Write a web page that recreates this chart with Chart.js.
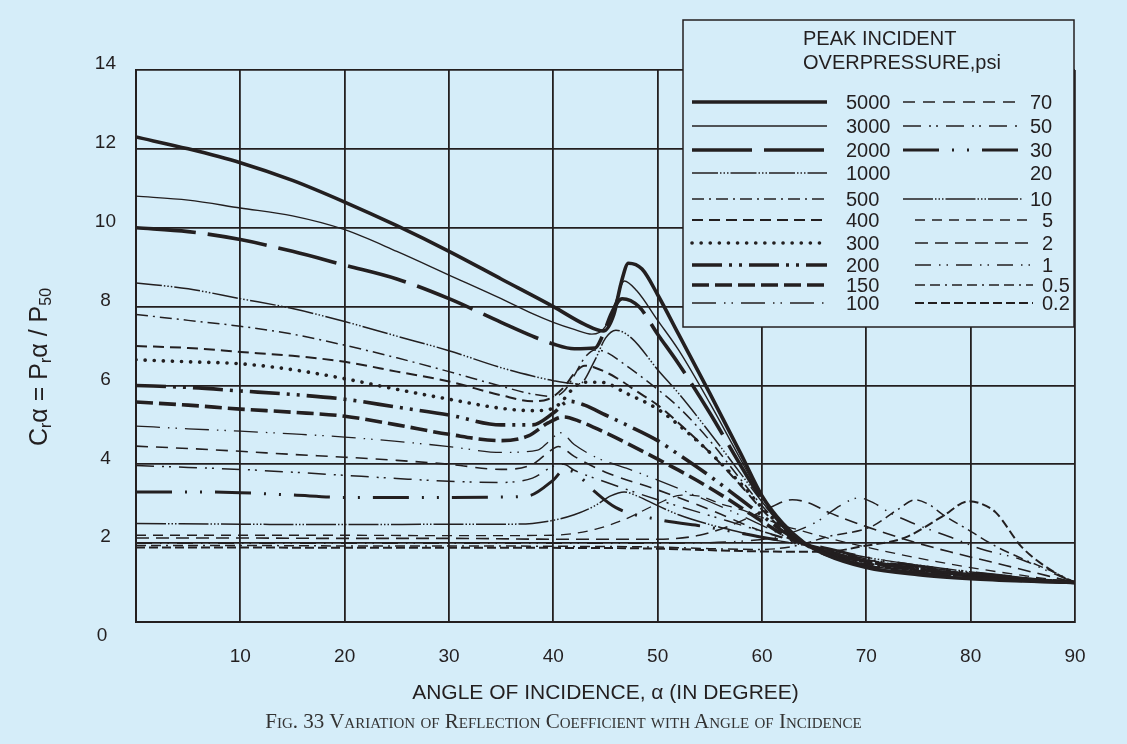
<!DOCTYPE html>
<html>
<head>
<meta charset="utf-8">
<script src="https://cdn.jsdelivr.net/npm/chart.js@4.4.0/dist/chart.umd.min.js"></script>
<style>
  html, body { margin: 0; padding: 0; background: #d5edf9; }
  #wrap { position: relative; width: 1127px; height: 744px; }
  #caption {
    position: absolute; left: 0; top: 709px; width: 1127px; text-align: center;
    font-family: "Liberation Serif", "DejaVu Serif", serif; font-variant: small-caps;
    font-size: 21px; color: #333;
  }
</style>
</head>
<body>
<div id="wrap">
  <canvas id="chart" width="1127" height="744"></canvas>
  <div id="caption">Fig. 33 Variation of Reflection Coefficient with Angle of Incidence</div>
</div>
<script>
// peak incident overpressure (psi) -> [angle, Cr] pairs
const pressures = ['5000', '3000', '2000', '1000', '500', '400', '300', '200', '150', '100',
                   '70', '50', '30', '20', '10', '5', '2', '1', '0.5', '0.2'];

const s5000 = [[0,12.3],[5,12.0],[10,11.65],[15,11.2],[20,10.65],[25,10.05],[30,9.4],[35,8.7],[40,8.0],[43,7.55],[44.8,7.38],[45.8,7.8],[46.5,8.6],[47.2,9.1],[48.5,8.95],[50,8.3],[52,7.3],[55,5.8],[58,4.25],[60,3.2],[62,2.5],[64,2.02],[66,1.72],[70,1.38],[75,1.2],[80,1.1],[85,1.04],[90,1.0]];
const s3000 = [[0,10.8],[5,10.7],[10,10.5],[15,10.3],[20,9.95],[25,9.4],[30,8.8],[35,8.2],[38,7.82],[40,7.6],[42,7.42],[43.7,7.3],[45,7.5],[46,8.15],[46.8,8.65],[48,8.4],[50,7.65],[52,6.9],[55,5.55],[58,4.1],[60,3.15],[62,2.48],[64,2.0],[66,1.72],[70,1.4],[75,1.22],[80,1.12],[85,1.05],[90,1.0]];
const s2000 = [[0,10.0],[5,9.9],[10,9.7],[15,9.4],[20,9.05],[25,8.7],[30,8.2],[35,7.6],[38,7.25],[40,7.05],[42,6.93],[44,6.95],[44.7,7.25],[45.6,7.85],[46.6,8.2],[48.2,8.0],[50,7.3],[52,6.55],[55,5.3],[58,3.95],[60,3.1],[62,2.45],[64,2.0],[66,1.73],[70,1.42],[75,1.24],[80,1.13],[85,1.05],[90,1.0]];
const s1000 = [[0,8.6],[5,8.45],[10,8.2],[15,7.95],[20,7.62],[25,7.25],[30,6.88],[35,6.45],[38,6.24],[40,6.12],[42.5,6.04],[44,6.65],[45,7.2],[46,7.4],[47.5,7.2],[50,6.4],[52,5.8],[55,4.8],[58,3.75],[60,3.05],[62,2.45],[64,2.0],[66,1.75],[70,1.45],[75,1.26],[80,1.15],[85,1.06],[90,1.0]];
const s500 = [[0,7.8],[5,7.65],[10,7.5],[15,7.3],[20,7.02],[25,6.7],[30,6.35],[35,5.98],[38,5.78],[40,5.72],[41,5.85],[42,6.25],[43,6.7],[44,6.9],[45,6.85],[47,6.5],[50,5.9],[52,5.45],[55,4.6],[58,3.6],[60,2.95],[62,2.4],[64,2.0],[66,1.77],[70,1.47],[75,1.28],[80,1.16],[85,1.07],[90,1.0]];
const s400 = [[0,7.0],[5,6.95],[10,6.85],[15,6.75],[20,6.6],[25,6.35],[30,6.1],[35,5.75],[38,5.6],[39.5,5.65],[41,5.95],[42,6.3],[43,6.5],[44,6.45],[46,6.2],[48,5.85],[50,5.5],[52,5.05],[55,4.3],[58,3.45],[60,2.85],[62,2.35],[64,2.0],[66,1.78],[70,1.5],[75,1.3],[80,1.18],[85,1.08],[90,1.0]];
const s300 = [[0,6.65],[5,6.6],[10,6.55],[15,6.4],[20,6.17],[25,5.9],[30,5.65],[35,5.42],[38,5.36],[40,5.42],[41,5.65],[42,5.95],[43,6.08],[44.6,6.08],[47,5.8],[50,5.4],[52,5.0],[55,4.3],[58,3.5],[60,2.9],[62,2.4],[64,2.02],[66,1.8],[70,1.52],[75,1.32],[80,1.19],[85,1.08],[90,1.0]];
const s200 = [[0,6.0],[5,5.95],[10,5.86],[15,5.77],[20,5.65],[25,5.45],[30,5.25],[35,5.0],[38,5.0],[40,5.3],[41.5,5.6],[43,5.5],[45,5.25],[47,5.0],[50,4.6],[52,4.25],[55,3.7],[58,3.1],[60,2.7],[62,2.3],[64,2.0],[66,1.8],[70,1.53],[75,1.33],[80,1.2],[85,1.09],[90,1.0]];
const s150 = [[0,5.58],[5,5.5],[10,5.4],[15,5.32],[20,5.22],[25,5.0],[30,4.76],[35,4.6],[37.6,4.72],[39.5,5.05],[41,5.2],[42.4,5.1],[45,4.8],[50,4.13],[52,3.85],[55,3.4],[58,2.9],[60,2.55],[62,2.22],[64,1.98],[66,1.8],[70,1.54],[75,1.34],[80,1.2],[85,1.09],[90,1.0]];
const s100 = [[0,4.97],[5,4.9],[10,4.84],[15,4.77],[20,4.69],[25,4.58],[30,4.45],[35,4.3],[38.5,4.36],[39.5,4.56],[40.7,4.8],[42,4.5],[44.3,4.15],[47,3.9],[50,3.6],[55,3.05],[58,2.7],[60,2.45],[62,2.2],[64,2.0],[66,1.83],[70,1.56],[75,1.36],[80,1.22],[85,1.1],[90,1.0]];
const s70 = [[0,4.46],[5,4.4],[10,4.33],[15,4.25],[20,4.18],[25,4.1],[30,4.0],[35,3.87],[38,4.0],[39.5,4.3],[40.5,4.45],[42,4.2],[45,3.8],[50,3.35],[55,2.85],[60,2.3],[64,1.98],[66,1.84],[70,1.58],[75,1.38],[80,1.23],[85,1.1],[90,1.0]];
const s50 = [[0,3.97],[5,3.92],[10,3.87],[15,3.8],[20,3.72],[25,3.64],[30,3.57],[35,3.54],[38,3.65],[40,3.95],[41,4.0],[42,3.85],[45,3.55],[50,3.1],[55,2.7],[60,2.3],[64,2.0],[66,1.86],[70,1.6],[75,1.4],[80,1.25],[85,1.11],[90,1.0]];
const s30 = [[0,3.3],[5,3.3],[10,3.28],[15,3.22],[20,3.16],[25,3.16],[30,3.16],[35,3.17],[37.6,3.2],[40,3.6],[41,3.85],[42,3.8],[44,3.3],[46,2.9],[50,2.6],[55,2.4],[60,2.15],[64,1.98],[66,1.88],[70,1.63],[75,1.42],[80,1.26],[85,1.12],[90,1.0]];
const s20 = []; // listed in the key, no curve visible in the figure
const s10 = [[0,2.5],[10,2.48],[20,2.47],[30,2.48],[35,2.48],[38,2.5],[40,2.58],[42,2.72],[44,2.95],[45.5,3.2],[46.8,3.3],[48,3.2],[50,2.95],[52,2.72],[55,2.47],[58,2.27],[60,2.14],[64,1.95],[66,1.86],[70,1.64],[75,1.44],[80,1.27],[85,1.13],[90,1.0]];
const s5 = [[0,2.2],[10,2.2],[20,2.2],[30,2.19],[40,2.2],[44,2.35],[47,2.62],[50,3.0],[52.3,3.22],[54.2,3.18],[56,3.0],[58,2.85],[60,2.65],[62,2.45],[64,2.3],[66,2.15],[70,1.9],[75,1.62],[80,1.38],[85,1.18],[90,1.0]];
const s2 = [[0,2.13],[10,2.13],[20,2.12],[30,2.12],[40,2.1],[50,2.1],[54,2.2],[57,2.45],[60,2.8],[62.9,3.1],[64.5,3.02],[66.4,2.78],[70.2,2.4],[74.4,2.04],[78,1.78],[82,1.52],[86,1.26],[90,1.0]];
const s1 = [[0,2.0],[10,2.0],[20,2.0],[30,2.0],[40,2.0],[50,2.0],[58,2.05],[61.6,2.17],[65.1,2.52],[67.5,2.95],[69.3,3.15],[70.7,3.02],[72.2,2.78],[75,2.45],[77.9,2.17],[81,1.85],[84.9,1.58],[88,1.22],[90,1.0]];
const s05 = [[0,1.94],[10,1.94],[20,1.93],[30,1.93],[40,1.92],[50,1.9],[55,1.86],[60,1.84],[63,1.92],[66.4,2.17],[70.5,2.42],[73,2.85],[74.7,3.1],[76,2.98],[77.3,2.73],[80,2.3],[82.4,1.92],[85,1.6],[88.1,1.25],[90,1.0]];
const s02 = [[0,1.89],[10,1.89],[20,1.88],[30,1.88],[40,1.88],[50,1.86],[58,1.8],[64,1.78],[67,1.8],[69.6,1.92],[73.7,2.14],[77.3,2.68],[79.8,3.06],[81,3.0],[82.4,2.78],[84.9,1.9],[88.1,1.25],[90,1.0]];

const series = [s5000, s3000, s2000, s1000, s500, s400, s300, s200, s150, s100,
                s70, s50, s30, s20, s10, s5, s2, s1, s05, s02];

const INK = '#231f20';
const BG = '#d5edf9';
const FONT = '"Liberation Sans", Arial, sans-serif';

// line look of each curve, same order as pressures
const looks = [
  { w: 3.6, dash: [] },
  { w: 1.4, dash: [] },
  { w: 3.6, dash: [60, 12] },
  { w: 1.5, dash: [26, 2, 1.5, 2, 1.5, 2, 1.5, 2] },
  { w: 1.5, dash: [12, 5, 2, 5] },
  { w: 2, dash: [11, 6] },
  { w: 3.6, dash: [0.1, 9], cap: 'round' },
  { w: 3.6, dash: [30, 7, 3, 7, 3, 7] },
  { w: 3.6, dash: [17, 6] },
  { w: 1.3, dash: [24, 8, 1.5, 6, 1.5, 8] },
  { w: 1.6, dash: [12, 8] },
  { w: 1.5, dash: [18, 8, 2, 5, 2, 8] },
  { w: 3, dash: [36, 13, 2, 13, 2, 13] },
  { w: 1.2, dash: [] },
  { w: 1.5, dash: [30, 2, 1.5, 2, 1.5, 2, 1.5, 2] },
  { w: 1.3, dash: [10, 7] },
  { w: 1.6, dash: [13, 7] },
  { w: 1.5, dash: [16, 8, 1.5, 6, 1.5, 8] },
  { w: 1.5, dash: [10, 5, 10, 5, 2, 5] },
  { w: 2, dash: [9, 4] }
];

const datasets = pressures.map((p, i) => ({
  label: p,
  data: series[i].map(pt => ({ x: pt[0], y: pt[1] })),
  borderColor: INK,
  borderWidth: looks[i].w,
  borderDash: looks[i].dash,
  borderCapStyle: looks[i].cap || 'butt',
  pointRadius: 0,
  fill: false,
  cubicInterpolationMode: 'monotone'
}));

const rowY = [102, 126, 150, 173, 199, 220, 243, 265, 285, 303];

const legendBox = {
  id: 'legendBox',
  afterDatasetsDraw(chart) {
    const ctx = chart.ctx;
    ctx.save();
    ctx.fillStyle = BG;
    ctx.fillRect(683, 20, 391, 307);
    ctx.strokeStyle = INK;
    ctx.lineWidth = 1.5;
    ctx.strokeRect(683, 20, 391, 307);
    ctx.fillStyle = INK;
    ctx.font = '20px ' + FONT;
    ctx.textBaseline = 'middle';
    ctx.textAlign = 'left';
    ctx.fillText('PEAK INCIDENT', 803, 39);
    ctx.fillText('OVERPRESSURE,psi', 803, 63);
    chart.data.datasets.forEach((ds, i) => {
      const row = i % 10;
      const y = rowY[row];
      let x0, x1, tx;
      if (i < 10) { x0 = 692; x1 = 827; tx = 846; }
      else if (row < 5) { x0 = 903; x1 = 1022; tx = 1030; }
      else { x0 = 915; x1 = 1033; tx = 1042; }
      if (ds.data.length) {
        ctx.beginPath();
        ctx.setLineDash(ds.borderDash);
        ctx.lineWidth = ds.borderWidth;
        ctx.lineCap = ds.borderCapStyle;
        ctx.moveTo(x0, y);
        ctx.lineTo(x1, y);
        ctx.stroke();
      }
      ctx.setLineDash([]);
      ctx.fillText(ds.label, tx, y + 1);
    });
    ctx.restore();
  }
};

// y title with real subscripts, plus the "0" label that sits below the axis corner
const yTitle = {
  id: 'yTitle',
  afterDraw(chart) {
    const ctx = chart.ctx;
    ctx.save();
    ctx.fillStyle = INK;
    ctx.font = '19px ' + FONT;
    ctx.textAlign = 'center';
    ctx.textBaseline = 'middle';
    ctx.fillText('0', 102, 636);

    const big = '25px ' + FONT, small = '16px ' + FONT;
    const parts = [['C', 0], ['r', 1], ['α = P', 0], ['r', 1], ['α / P', 0], ['50', 1]];
    ctx.translate(38, 367);
    ctx.rotate(-Math.PI / 2);
    ctx.textBaseline = 'alphabetic';
    ctx.textAlign = 'left';
    let total = 0;
    parts.forEach(p => { ctx.font = p[1] ? small : big; total += ctx.measureText(p[0]).width; });
    let x = -total / 2;
    parts.forEach(p => {
      ctx.font = p[1] ? small : big;
      ctx.fillText(p[0], x, p[1] ? 13 : 9);
      x += ctx.measureText(p[0]).width;
    });
    ctx.restore();
  }
};

new Chart(document.getElementById('chart'), {
  type: 'line',
  data: { datasets: datasets },
  options: {
    responsive: false,
    animation: false,
    layout: { padding: { top: 70, right: 52, left: 0, bottom: 0 } },
    plugins: { legend: { display: false }, tooltip: { enabled: false } },
    scales: {
      x: {
        type: 'linear', min: 0, max: 90,
        afterFit(s) { s.height = 122; },
        grid: { color: INK, lineWidth: 1.8, drawTicks: false },
        border: { color: INK, width: 2 },
        ticks: {
          stepSize: 10, padding: 23, color: INK, font: { family: FONT, size: 19 },
          callback: v => (v === 0 ? '' : v)
        },
        title: {
          display: true, text: 'ANGLE OF INCIDENCE, α (IN DEGREE)', color: INK,
          font: { family: FONT, size: 21 }, padding: { top: 0, bottom: 38 }
        }
      },
      y: {
        min: 0, max: 14,
        afterFit(s) { s.width = 136; },
        grid: { color: INK, lineWidth: 1.8, drawTicks: false },
        border: { color: INK, width: 2 },
        ticks: {
          stepSize: 2, padding: 20, crossAlign: 'center', labelOffset: -6,
          color: INK, font: { family: FONT, size: 19 },
          callback: v => (v === 0 ? '' : v)
        }
      }
    }
  },
  plugins: [legendBox, yTitle]
});
</script>
</body>
</html>
